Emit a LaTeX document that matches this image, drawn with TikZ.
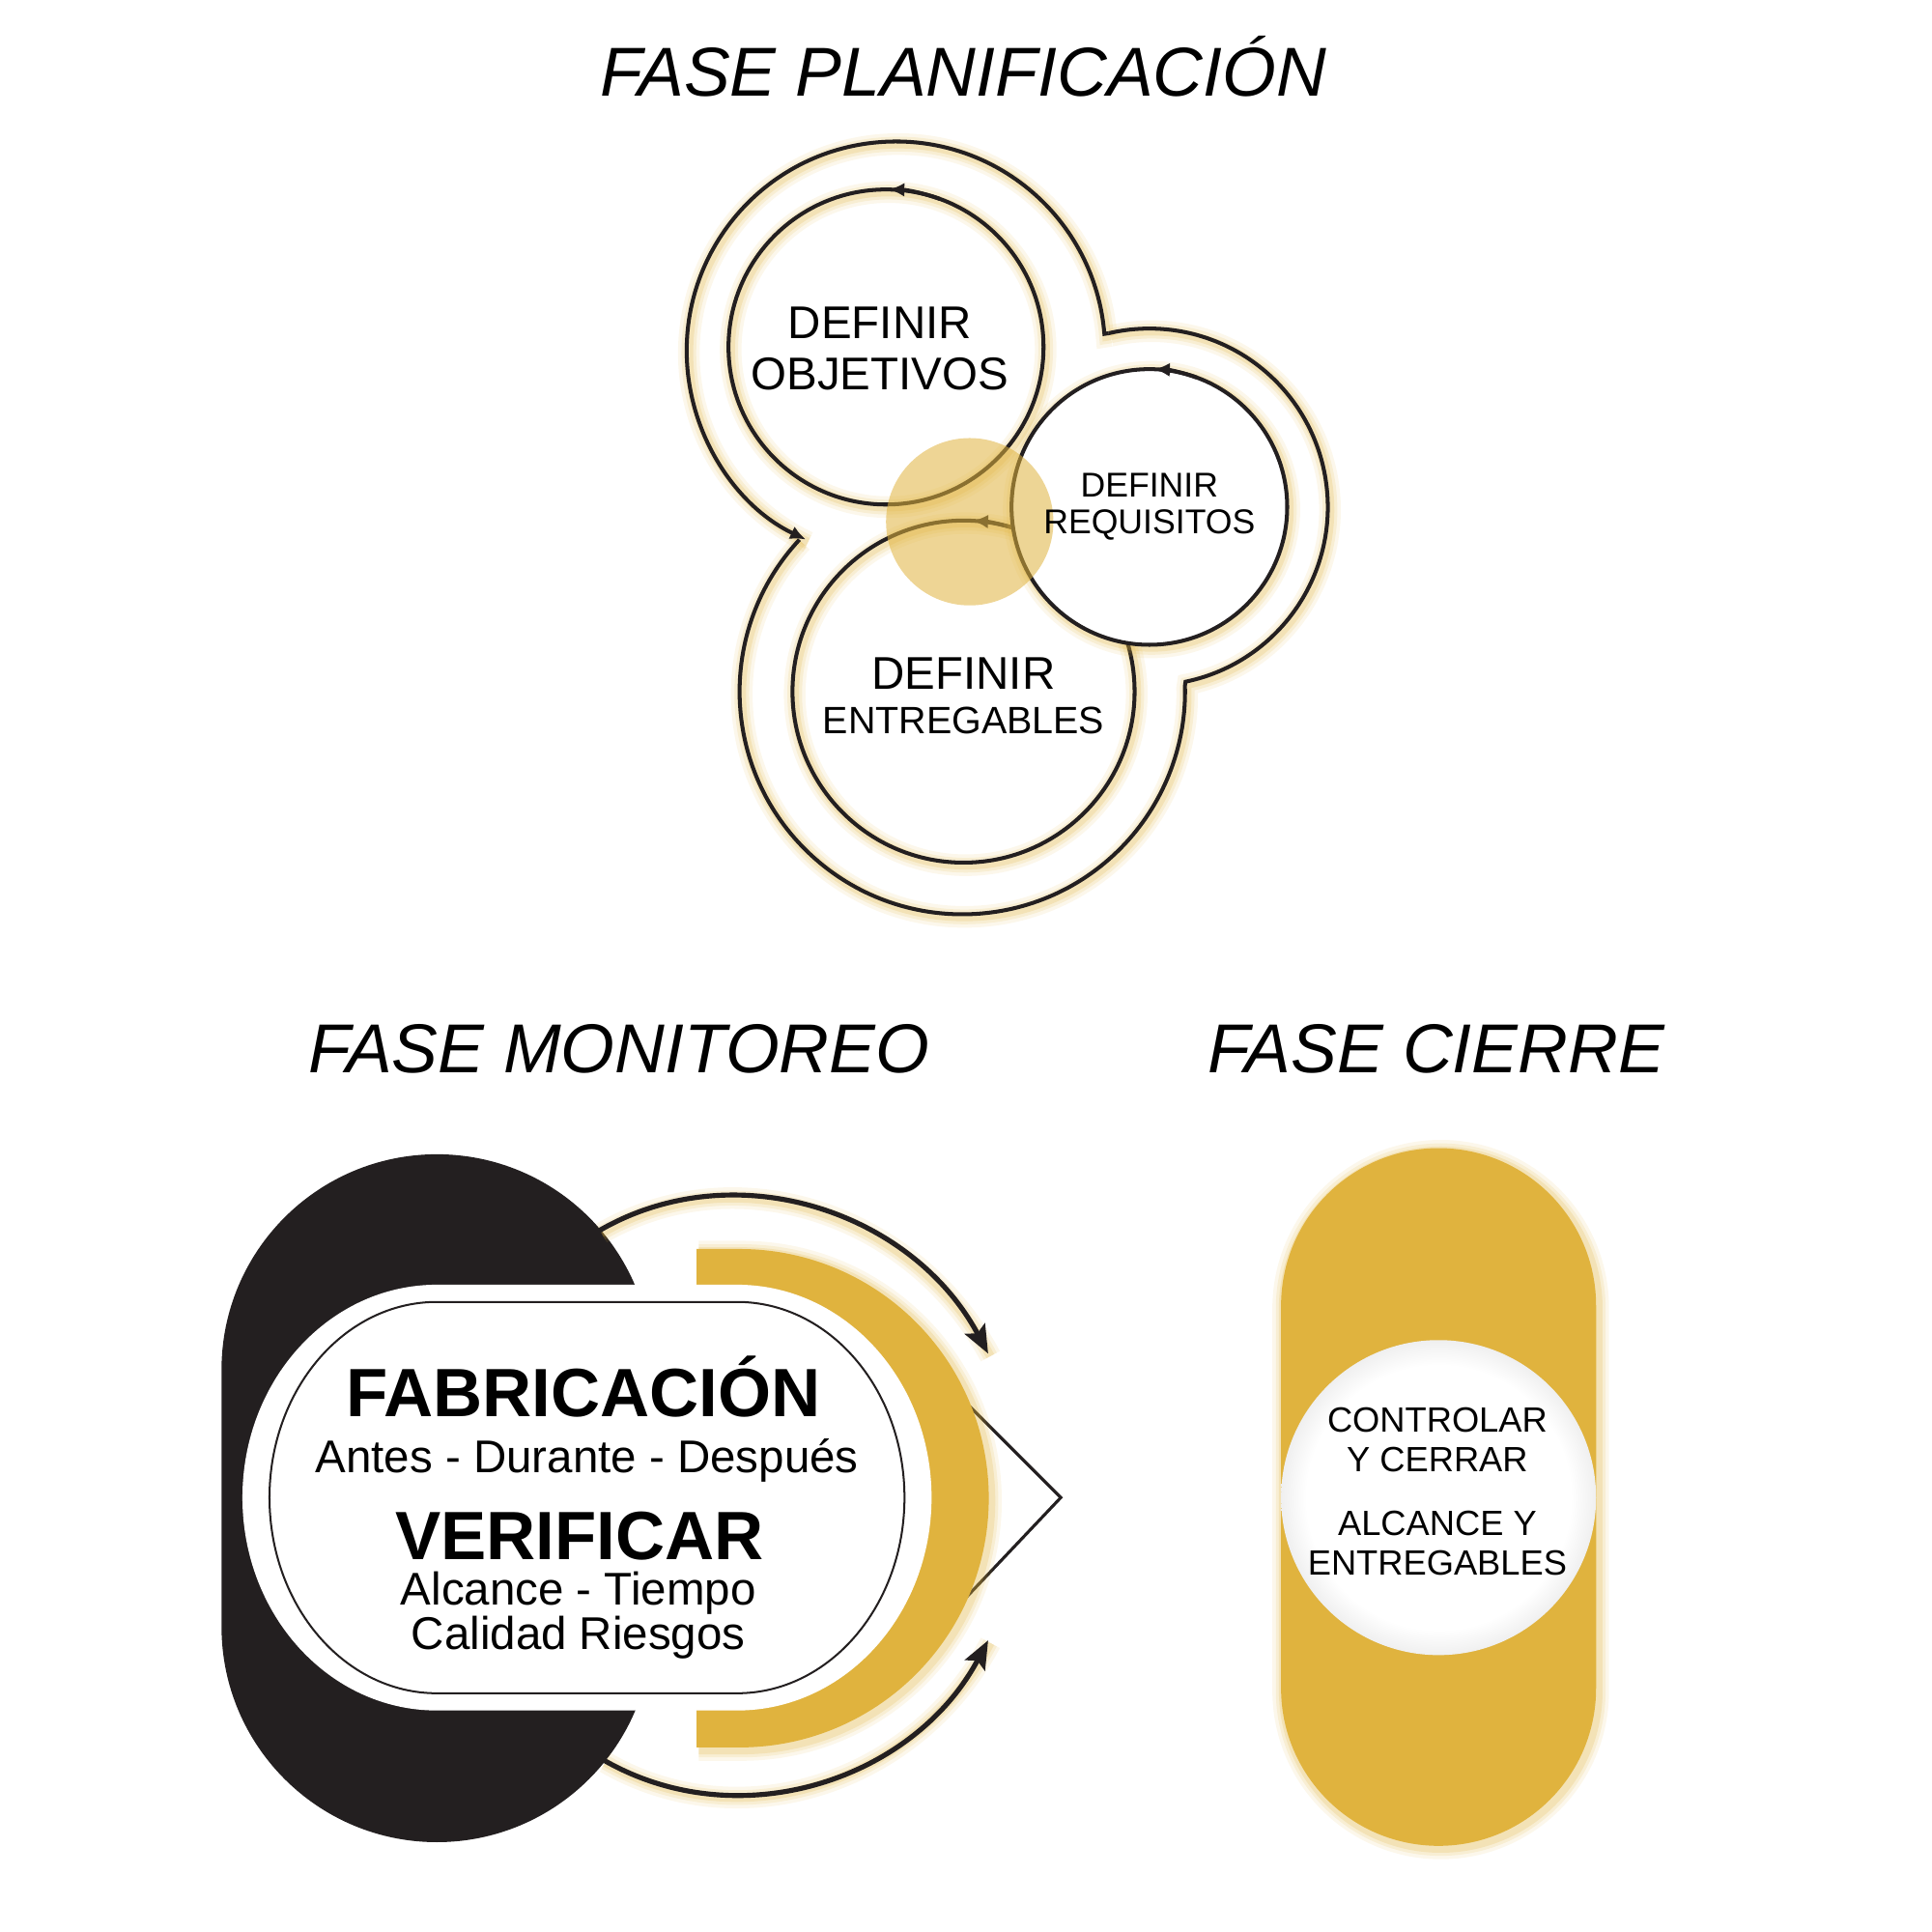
\documentclass[tikz,border=0pt]{standalone}
\usepackage{fontspec}
\setmainfont{Liberation Sans}
\usetikzlibrary{arrows.meta}
\definecolor{gold}{RGB}{224,179,62}
\definecolor{ink}{RGB}{35,31,32}
\pgfdeclareradialshading{rimshade}{\pgfpoint{0bp}{0bp}}{color(0bp)=(white); color(21bp)=(white); color(35.4bp)=(black!22); color(50bp)=(black!22)}
\newcommand\fsz[1]{\fontsize{#1}{#1}\selectfont}
\newcommand\glowstroke[1]{%
  \begin{scope}[transform canvas={shift={(0.5pt,-0.6pt)}}]
    \draw[gold,opacity=0.10,line width=5pt] #1;
    \draw[gold,opacity=0.14,line width=3.4pt] #1;
    \draw[gold,opacity=0.20,line width=2pt] #1;
  \end{scope}}
\tikzset{
  cline/.style={draw=ink, line width=0.9pt, line join=miter},
  smalltip/.style={-{Latex[length=3.6pt,width=3.2pt]}},
  bigtip/.style={-{Stealth[length=6.5pt,width=5.2pt,inset=1.2pt]}},
  title/.style={anchor=base, font=\fsz{16pt}\itshape},
  txt/.style={anchor=base, inner sep=0pt},
}
\begin{document}
\begin{tikzpicture}[x=0.01cm,y=0.01cm]
\useasboundingbox (0,0) rectangle (1570,1570);

% ---------- titles
\node[title] (tplan) at (783,1492) {FASE PLANIFICACIÓN};
\node[title] (tmon) at (503,698) {FASE MONITOREO};
\node[title] (tcie) at (1167,698) {FASE CIERRE};

% ---------- Planificacion: outer contour
\glowstroke{(900.89,1299.17) -- (897.45,1298.63) arc[start angle=4.6,end angle=244.5,radius=170]}
\glowstroke{(649.63,1131.44) arc[start angle=137,end angle=361.6,radius=181] -- (963.4,1016.01) arc[start angle=-78.3,end angle=103.2,radius=145]}
\draw[cline,smalltip] (900.89,1299.17) -- (897.45,1298.63) arc[start angle=4.6,end angle=244.5,radius=170];
\draw[cline] (649.63,1131.44) arc[start angle=137,end angle=361.6,radius=181] -- (963.4,1016.01) arc[start angle=-78.3,end angle=103.2,radius=145];

% inner circles
\coordinate (cobj) at (720,1288);
\coordinate (creq) at (934,1158);
\coordinate (cent) at (783,1008);
\glowstroke{(cobj) circle[radius=128]}
\draw[cline] (cobj) circle[radius=128];
\draw[cline,smalltip] (cobj) ++(70:128) arc[start angle=70,end angle=89,radius=128];
\glowstroke{(cent) circle[radius=139]}
\draw[cline] (cent) circle[radius=139];
\draw[cline,smalltip] (cent) ++(72:139) arc[start angle=72,end angle=87,radius=139];
\glowstroke{(creq) circle[radius=112]}
\draw[cline,fill=white] (creq) circle[radius=112];
\draw[cline,smalltip] (creq) ++(70:112) arc[start angle=70,end angle=88,radius=112];
\fill[gold,opacity=0.55] (788,1146) circle[radius=68];

\node[txt,font=\fsz{10.6pt}] (o1) at (715,1295) {DEFINIR};
\node[txt,font=\fsz{10.6pt}] (o2) at (715,1253) {OBJETIVOS};
\node[txt,font=\fsz{7.95pt}] (r1) at (934,1166) {DEFINIR};
\node[txt,font=\fsz{7.95pt}] (r2) at (934,1136) {REQUISITOS};
\node[txt,font=\fsz{10.6pt}] (e1) at (783,1010) {DEFINIR};
\node[txt,font=\fsz{8.8pt}] (e2) at (783,974) {ENTREGABLES};

% ---------- Monitoreo
\fill[ink,rounded corners=1.75cm] (180,73) rectangle (530,632);
\coordinate (a1s) at (487,570);
\coordinate (a1e) at (803,470);
\coordinate (a2s) at (490,140);
\coordinate (a2e) at (803,237);
\glowstroke{(a1s) to[out=30,in=118] (a1e)}
\glowstroke{(a2s) to[out=-30,in=-118] (a2e)}
\draw[ink,line width=1.15pt,bigtip] (a1s) to[out=30,in=118] (a1e);
\draw[ink,line width=1.15pt,bigtip] (a2s) to[out=-30,in=-118] (a2e);
\coordinate (ch1) at (775,440);
\coordinate (ch2) at (862,353);
\coordinate (ch3) at (772,258);
\draw[ink,line width=0.7pt] (ch1) -- (ch2) -- (ch3);
\glowstroke{(566,555) -- (601,555) arc[start angle=90,end angle=-90,radius=202.5] -- (566,150)}
\fill[gold] (566,555) -- (601,555) arc[start angle=90,end angle=-90,radius=202.5] -- (566,150) -- cycle;
\fill[white] (355,526) -- (599,526) arc[start angle=90,end angle=-90,x radius=158,y radius=173] -- (355,180) arc[start angle=270,end angle=90,x radius=158,y radius=173] -- cycle;
\draw[ink,line width=0.45pt] (355,512) -- (599,512) arc[start angle=90,end angle=-90,x radius=136,y radius=159] -- (355,194) arc[start angle=270,end angle=90,x radius=136,y radius=159] -- cycle;

\node[txt,font=\fsz{15.8pt}\bfseries] (m1) at (474,419) {FABRICACIÓN};
\node[txt,font=\fsz{10.6pt}] (m2) at (477,373) {Antes - Durante - Después};
\node[txt,font=\fsz{15.8pt}\bfseries] (m3) at (471,303) {VERIFICAR};
\node[txt,font=\fsz{10.6pt}] (m4) at (470,266) {Alcance - Tiempo};
\node[txt,font=\fsz{10.6pt}] (m5) at (470,230) {Calidad Riesgos};

% ---------- Cierre
\glowstroke{[rounded corners=1.28cm] (1041,70) rectangle (1297,637)}
\fill[gold,rounded corners=1.28cm] (1041,70) rectangle (1297,637);
\shade[shading=rimshade] (1169,353) circle[radius=128];
\node[txt,font=\fsz{8.1pt}] (c1) at (1168,406) {CONTROLAR};
\node[txt,font=\fsz{8.1pt}] (c2) at (1168,374) {Y CERRAR};
\node[txt,font=\fsz{8.1pt}] (c3) at (1168,322) {ALCANCE Y};
\node[txt,font=\fsz{8.1pt}] (c4) at (1168,290) {ENTREGABLES};
\end{tikzpicture}
\end{document}
